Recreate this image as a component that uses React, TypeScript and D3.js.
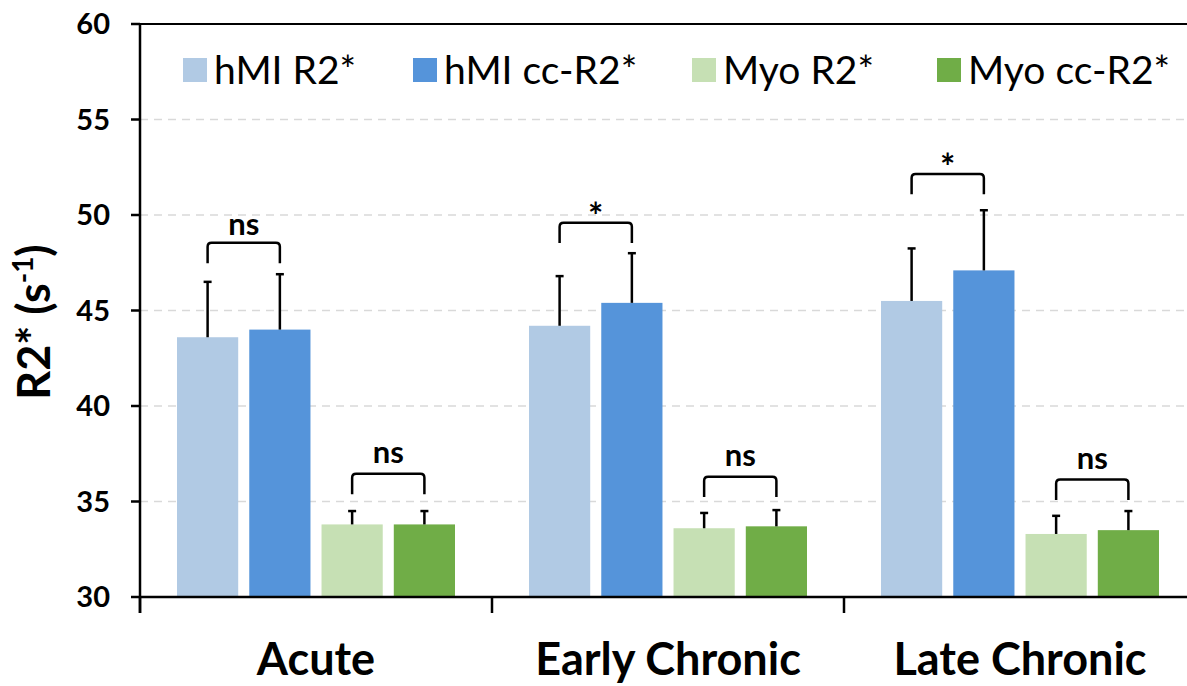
import React from 'react';
import * as d3 from 'd3';

const categories = ['Acute', 'Early Chronic', 'Late Chronic'];
const seriesNames = ['hMI R2*', 'hMI cc-R2*', 'Myo R2*', 'Myo cc-R2*'];
const seriesColors = ['#b1cae4', '#5594da', '#c6e0b4', '#70ad47'];

const hmiR2 = [43.6, 44.2, 45.5];
const hmiCcR2 = [44.0, 45.4, 47.1];
const myoR2 = [33.8, 33.6, 33.3];
const myoCcR2 = [33.8, 33.7, 33.5];

const hmiR2Sd = [2.9, 2.6, 2.75];
const hmiCcR2Sd = [2.9, 2.6, 3.15];
const myoR2Sd = [0.7, 0.8, 0.95];
const myoCcR2Sd = [0.7, 0.85, 1.0];

const yTicks = [30, 35, 40, 45, 50, 55, 60];
const gridTicks = [35, 40, 45, 50, 55];

const hmiSigLabels = ['ns', '*', '*'];
const hmiSigLevel = [48.55, 49.6, 52.15];
const myoSigLabels = ['ns', 'ns', 'ns'];
const myoSigLevel = [36.45, 36.3, 36.15];

const legendX = [183, 413, 692, 937];

const seriesValues = [hmiR2, hmiCcR2, myoR2, myoCcR2];
const seriesSd = [hmiR2Sd, hmiCcR2Sd, myoR2Sd, myoCcR2Sd];

const W = 1187;
const H = 686;
const LEFT = 140;
const RIGHT = 1196;
const TOP = 24;
const BOTTOM = 597;
const FONT = 'Lato, "Open Sans", sans-serif';

export default function App() {
  const y = d3.scaleLinear().domain([30, 60]).range([BOTTOM, TOP]);
  const x0 = d3.scaleBand<string>().domain(categories).range([LEFT, RIGHT]).padding(0);
  const bw0 = x0.bandwidth();
  const x1 = d3
    .scaleBand<string>()
    .domain(seriesNames)
    .range([37, bw0 - 37])
    .paddingInner(0.153)
    .paddingOuter(0);
  const bw = x1.bandwidth();
  const legUnits = 1.07;

  const bracket = (xa: number, xb: number, level: number, key: string) => {
    const yt = y(level);
    const yb = y(level - legUnits);
    const r = 4;
    const p = d3.path();
    p.moveTo(xa, yb);
    p.lineTo(xa, yt + r);
    p.quadraticCurveTo(xa, yt, xa + r, yt);
    p.lineTo(xb - r, yt);
    p.quadraticCurveTo(xb, yt, xb, yt + r);
    p.lineTo(xb, yb);
    return <path key={key} d={p.toString()} fill="none" stroke="#000" strokeWidth={2.5} />;
  };

  return (
    <svg
      width={W}
      height={H}
      style={{ position: 'absolute', left: 0, top: 0, background: '#fff' }}
      fontFamily={FONT}
    >
      <rect x={0} y={0} width={W} height={H} fill="#fff" />
      {gridTicks.map((t) => (
        <line
          key={'g' + t}
          x1={LEFT}
          x2={RIGHT}
          y1={y(t)}
          y2={y(t)}
          stroke="#d9d9d9"
          strokeWidth={1.5}
          strokeDasharray="8,6"
        />
      ))}
      {categories.map((c, ci) => (
        <g key={c} transform={`translate(${x0(c)},0)`}>
          {seriesNames.map((s, si) => {
            const v = seriesValues[si][ci];
            const bx = x1(s)!;
            return (
              <rect
                key={s}
                x={bx}
                y={y(v)}
                width={bw}
                height={y(30) - y(v)}
                fill={seriesColors[si]}
              />
            );
          })}
          {seriesNames.map((s, si) => {
            const v = seriesValues[si][ci];
            const e = v + seriesSd[si][ci];
            const cx = x1(s)! + bw / 2;
            return (
              <g key={'e' + s} stroke="#000" strokeWidth={2.5}>
                <line x1={cx} x2={cx} y1={y(v)} y2={y(e)} />
                <line x1={cx - 4} x2={cx + 4} y1={y(e)} y2={y(e)} />
              </g>
            );
          })}
          {bracket(
            x1(seriesNames[0])! + bw / 2,
            x1(seriesNames[1])! + bw / 2,
            hmiSigLevel[ci],
            'bh'
          )}
          {bracket(
            x1(seriesNames[2])! + bw / 2,
            x1(seriesNames[3])! + bw / 2,
            myoSigLevel[ci],
            'bm'
          )}
          <text
            x={(x1(seriesNames[0])! + x1(seriesNames[1])! + bw) / 2}
            y={y(hmiSigLevel[ci]) - (hmiSigLabels[ci] === '*' ? -6 : 8)}
            textAnchor="middle"
            fontSize={hmiSigLabels[ci] === '*' ? 36 : 31}
            fontWeight="bold"
            fill="#000"
          >
            {hmiSigLabels[ci]}
          </text>
          <text
            x={(x1(seriesNames[2])! + x1(seriesNames[3])! + bw) / 2}
            y={y(myoSigLevel[ci]) - 11}
            textAnchor="middle"
            fontSize={31}
            fontWeight="bold"
            fill="#000"
          >
            {myoSigLabels[ci]}
          </text>
          <text
            x={bw0 / 2}
            y={675}
            textAnchor="middle"
            fontSize={45}
            fontWeight="bold"
            fill="#000"
          >
            {c}
          </text>
        </g>
      ))}
      <line x1={LEFT} x2={RIGHT} y1={TOP} y2={TOP} stroke="#000" strokeWidth={2} />
      <line x1={LEFT} x2={LEFT} y1={TOP - 1} y2={613} stroke="#000" strokeWidth={2.5} />
      <line x1={LEFT} x2={RIGHT} y1={BOTTOM} y2={BOTTOM} stroke="#000" strokeWidth={2.5} />
      {yTicks.map((t) => (
        <g key={'t' + t}>
          <line x1={131} x2={LEFT} y1={y(t)} y2={y(t)} stroke="#000" strokeWidth={2.5} />
          <text
            x={110}
            y={y(t)}
            dy="0.36em"
            textAnchor="end"
            fontSize={29}
            fontWeight="bold"
            fill="#000"
          >
            {t}
          </text>
        </g>
      ))}
      {categories.map((c) => (
        <line
          key={'xt' + c}
          x1={x0(c)!}
          x2={x0(c)!}
          y1={BOTTOM}
          y2={613}
          stroke="#000"
          strokeWidth={2.5}
        />
      ))}
      <text
        transform={`translate(50,322) rotate(-90)`}
        textAnchor="middle"
        fontSize={45}
        fontWeight="bold"
        fill="#000"
      >
        R2* (s
        <tspan fontSize={28} dy={-17}>
          -1
        </tspan>
        <tspan dy={17}>)</tspan>
      </text>
      {seriesNames.map((s, i) => (
        <g key={'l' + s}>
          <rect x={legendX[i]} y={58} width={24} height={24} fill={seriesColors[i]} />
          <text x={legendX[i] + 31} y={70} dy="0.36em" fontSize={39} fill="#000">
            {s}
          </text>
        </g>
      ))}
    </svg>
  );
}
